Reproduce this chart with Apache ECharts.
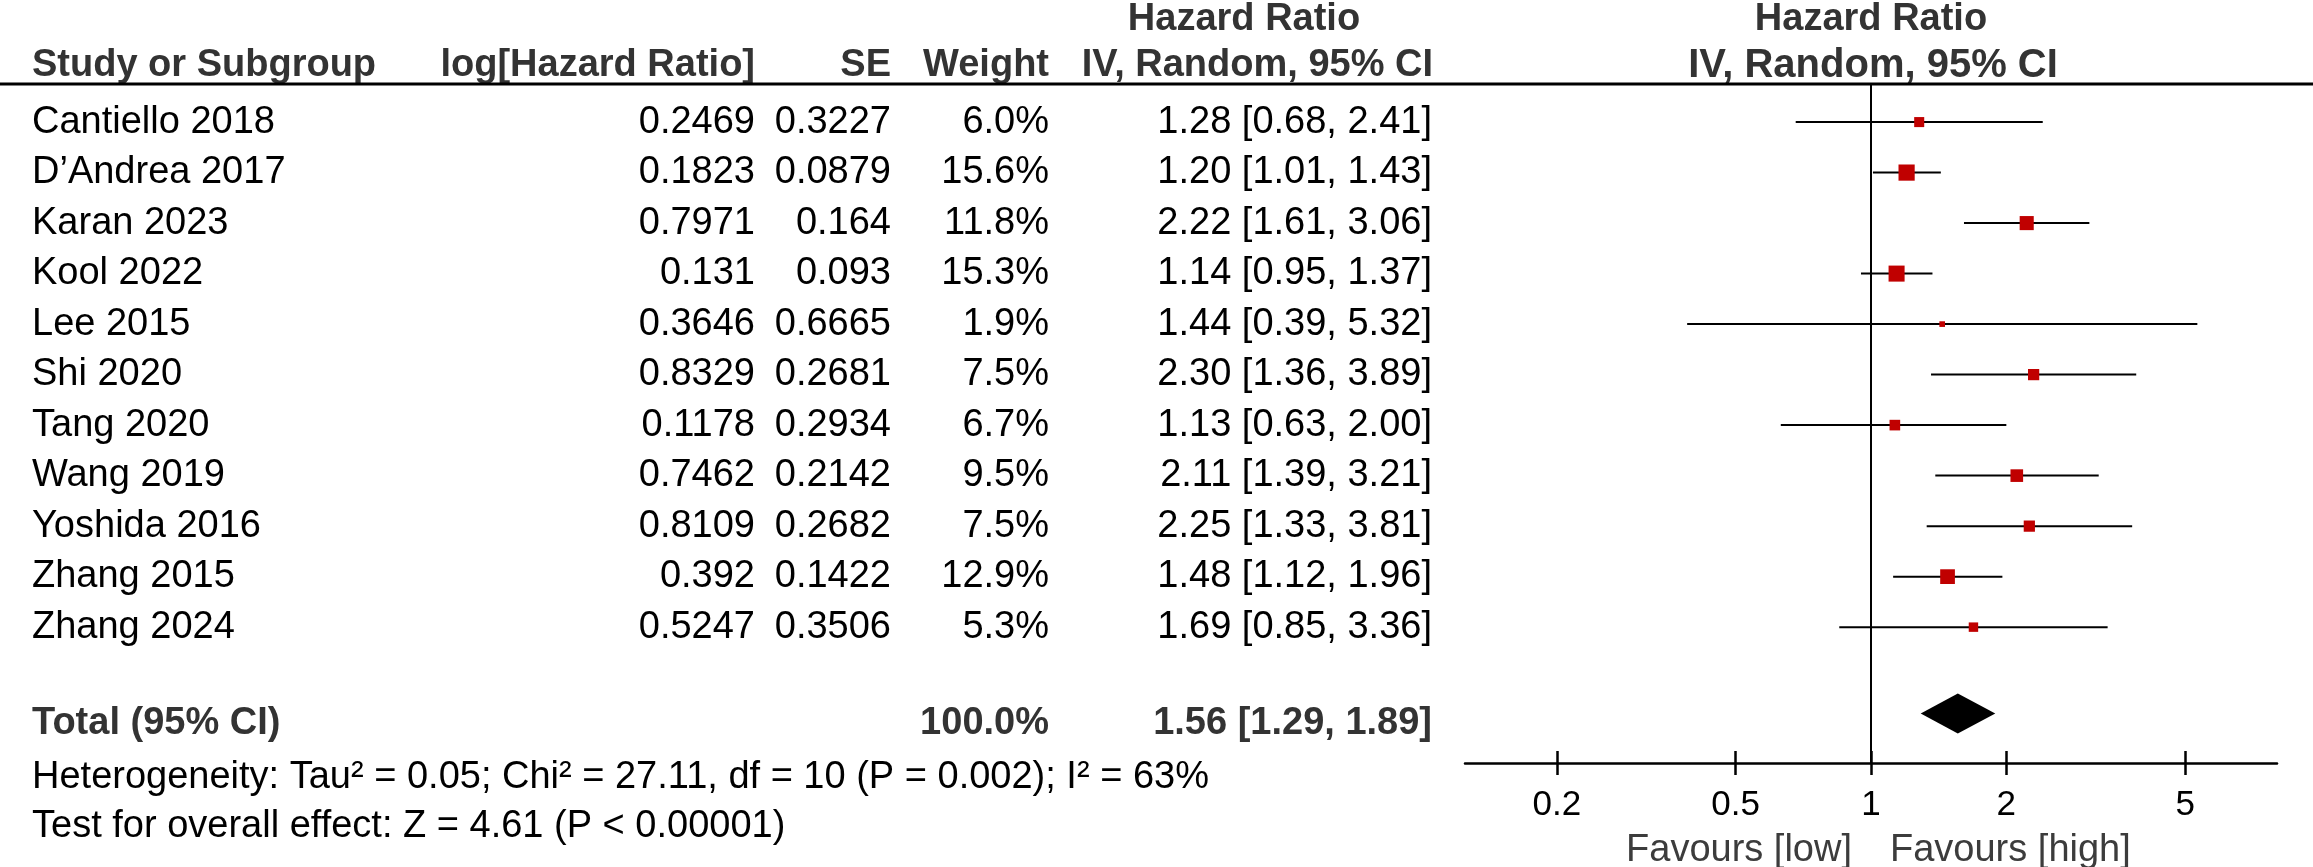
<!DOCTYPE html>
<html><head><meta charset="utf-8">
<script src="https://cdn.jsdelivr.net/npm/echarts@6/dist/echarts.min.js"></script>
<style>html,body{margin:0;padding:0;background:#fff}#c{width:2313px;height:867px}</style>
</head><body><div id="c"></div>
<script>
const studies = ['Cantiello 2018', 'D\u2019Andrea 2017', 'Karan 2023', 'Kool 2022', 'Lee 2015', 'Shi 2020', 'Tang 2020', 'Wang 2019', 'Yoshida 2016', 'Zhang 2015', 'Zhang 2024'];
const logHR = ['0.2469', '0.1823', '0.7971', '0.131', '0.3646', '0.8329', '0.1178', '0.7462', '0.8109', '0.392', '0.5247'];
const seVals = ['0.3227', '0.0879', '0.164', '0.093', '0.6665', '0.2681', '0.2934', '0.2142', '0.2682', '0.1422', '0.3506'];
const weights = [6.0, 15.6, 11.8, 15.3, 1.9, 7.5, 6.7, 9.5, 7.5, 12.9, 5.3];
const hr = [1.28, 1.20, 2.22, 1.14, 1.44, 2.30, 1.13, 2.11, 2.25, 1.48, 1.69];
const lower = [0.68, 1.01, 1.61, 0.95, 0.39, 1.36, 0.63, 1.39, 1.33, 1.12, 0.85];
const upper = [2.41, 1.43, 3.06, 1.37, 5.32, 3.89, 2.00, 3.21, 3.81, 1.96, 3.36];
const totalHR = [1.56, 1.29, 1.89];
const totalWeight = '100.0%';
const xTicks = [0.2, 0.5, 1, 2, 5];
const heteroText = 'Heterogeneity: Tau\u00b2 = 0.05; Chi\u00b2 = 27.11, df = 10 (P = 0.002); I\u00b2 = 63%';
const overallText = 'Test for overall effect: Z = 4.61 (P < 0.00001)';

const FF = '"Liberation Sans", Arial, sans-serif';
const FS = 38;
const HEAD = '#333333';
const COL = { name: 32, logHR: 755, se: 891, weight: 1049, ci: 1432 };
const ROW_TOTAL = 11.91, ROW_HET = 12.98, ROW_TEST = 13.95;

function txt(text, x, y, align, bold, color, size) {
  return { type: 'text', style: { text: text, x: x, y: y, align: align, verticalAlign: 'middle',
    fontSize: size || FS, fontFamily: FF, fontWeight: bold ? 'bold' : 'normal', fill: color || '#000' } };
}
function fmtCI(a, b, c) { return a.toFixed(2) + ' [' + b.toFixed(2) + ', ' + c.toFixed(2) + ']'; }

const chart = echarts.init(document.getElementById('c'), null, { renderer: 'canvas' });
const tickOpts = { show: true, customValues: xTicks, length: 12, lineStyle: { color: '#000', width: 2.5 } };
chart.setOption({
  backgroundColor: '#fff',
  animation: false,
  grid: { left: 1465, right: 36, top: 84, bottom: 104, containLabel: false },
  xAxis: [
    { type: 'log', logBase: 10, min: 0.125, max: 8, position: 'bottom',
      axisLine: { show: true, onZero: false, lineStyle: { color: '#000', width: 2.5 } },
      axisTick: Object.assign({}, tickOpts, { inside: false }),
      axisLabel: { show: true, customValues: xTicks, margin: 25, fontSize: 35, fontFamily: FF, color: '#000',
        formatter: function (v) { return String(+(+v).toPrecision(3)); } },
      splitLine: { show: false } },
    { type: 'log', logBase: 10, min: 0.125, max: 8, position: 'bottom',
      axisLine: { show: false, onZero: false },
      axisTick: Object.assign({}, tickOpts, { inside: true }),
      axisLabel: { show: false }, splitLine: { show: false } }
  ],
  yAxis: { type: 'value', inverse: true, min: -0.754, max: 12.69, show: false },
  series: [
    { type: 'custom', name: 'table', clip: false, silent: true,
      data: studies.map(function (s, i) { return [1, i]; }),
      renderItem: function (params, api) {
        const i = params.dataIndex;
        const y = api.coord([1, api.value(1)])[1];
        return { type: 'group', children: [
          txt(studies[i], COL.name, y, 'left'),
          txt(logHR[i], COL.logHR, y, 'right'),
          txt(seVals[i], COL.se, y, 'right'),
          txt(weights[i].toFixed(1) + '%', COL.weight, y, 'right'),
          txt(fmtCI(hr[i], lower[i], upper[i]), COL.ci, y, 'right')
        ] };
      } },
    { type: 'custom', name: 'summaryText', clip: false, silent: true,
      data: [[1, ROW_TOTAL]],
      renderItem: function (params, api) {
        const yT = api.coord([1, ROW_TOTAL])[1];
        const yH = api.coord([1, ROW_HET])[1];
        const yO = api.coord([1, ROW_TEST])[1];
        return { type: 'group', children: [
          txt('Total (95% CI)', COL.name, yT, 'left', true, HEAD),
          txt(totalWeight, COL.weight, yT, 'right', true, HEAD),
          txt(fmtCI(totalHR[0], totalHR[1], totalHR[2]), COL.ci, yT, 'right', true, HEAD),
          txt(heteroText, COL.name, yH, 'left'),
          txt(overallText, COL.name, yO, 'left')
        ] };
      } },
    { type: 'custom', name: 'studies', clip: false, silent: true,
      data: studies.map(function (s, i) { return [hr[i], i, lower[i], upper[i], weights[i]]; }),
      renderItem: function (params, api) {
        const r = api.value(1);
        const p = api.coord([api.value(0), r]);
        const l = api.coord([api.value(2), r]);
        const u = api.coord([api.value(3), r]);
        const s = 4.1 * Math.sqrt(api.value(4));
        return { type: 'group', children: [
          { type: 'line', shape: { x1: l[0], y1: l[1], x2: u[0], y2: u[1] }, style: { stroke: '#000', lineWidth: 2 } },
          { type: 'rect', shape: { x: p[0] - s / 2, y: p[1] - s / 2, width: s, height: s }, style: { fill: '#c00000' } }
        ] };
      },
      markLine: { silent: true, symbol: 'none', label: { show: false },
        lineStyle: { color: '#000', width: 2, type: 'solid' }, data: [{ xAxis: 1 }] } },
    { type: 'custom', name: 'total', clip: false, silent: true,
      data: [[totalHR[0], ROW_TOTAL, totalHR[1], totalHR[2]]],
      renderItem: function (params, api) {
        const r = api.value(1);
        const c = api.coord([api.value(0), r]);
        const l = api.coord([api.value(2), r]);
        const u = api.coord([api.value(3), r]);
        const h = 20, dy = -10;
        return { type: 'polygon', shape: { points: [[l[0], c[1] + dy], [c[0], c[1] + dy - h], [u[0], c[1] + dy], [c[0], c[1] + dy + h]] },
          style: { fill: '#000' } };
      } }
  ],
  graphic: [
    { type: 'line', shape: { x1: 0, y1: 84, x2: 2313, y2: 84 }, style: { stroke: '#000', lineWidth: 3 }, z: 10 },
    txt('Hazard Ratio', 1244, 20, 'center', true, HEAD),
    txt('Hazard Ratio', 1871, 20, 'center', true, HEAD),
    txt('Study or Subgroup', 32, 66, 'left', true, HEAD),
    txt('log[Hazard Ratio]', 755, 66, 'right', true, HEAD),
    txt('SE', 891, 66, 'right', true, HEAD),
    txt('Weight', 1049, 66, 'right', true, HEAD),
    txt('IV, Random, 95% CI', 1433, 66, 'right', true, HEAD),
    txt('IV, Random, 95% CI', 1873, 66, 'center', true, HEAD, 40),
    txt('Favours [low]', 1852, 851, 'right', false, '#3c3c3c'),
    txt('Favours [high]', 1890, 851, 'left', false, '#3c3c3c')
  ]
});
</script></body></html>
